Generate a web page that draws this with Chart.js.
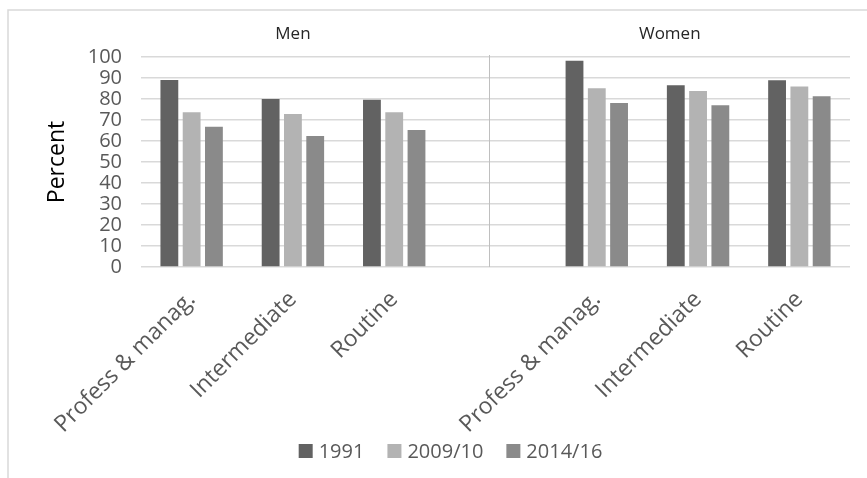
<!DOCTYPE html>
<html>
<head>
<meta charset="utf-8">
<script src="https://cdn.jsdelivr.net/npm/chart.js@4/dist/chart.umd.min.js"></script>
<style>
  html, body { margin: 0; padding: 0; background: #ffffff; }
  #wrap { width: 867px; height: 478px; }
</style>
</head>
<body>
<div id="wrap"><canvas id="chart" width="867" height="478"></canvas></div>
<script>
// Occupational classes, shown once for men and once for women; the empty slot separates the panels
const categories = ['Profess & manag.', 'Intermediate', 'Routine', '', 'Profess & manag.', 'Intermediate', 'Routine'];
const panelNames = ['Men', 'Women'];
const seriesNames = ['1991', '2009/10', '2014/16'];

// Percent values per survey year
const values1991 = [89, 80, 79.7, null, 98.2, 86.5, 88.9];
const values2009 = [73.7, 72.9, 73.7, null, 85.1, 83.8, 86];
const values2014 = [66.8, 62.4, 65.2, null, 78.1, 77, 81.3];

const yMin = 0;
const yMax = 100;
const yStep = 10;

const FONT = "'Open Sans', 'DejaVu Sans', sans-serif";
const seriesColors = ['#626262', '#b3b3b3', '#8a8a8a'];

// Frame lines, panel divider and panel headings
const panelPlugin = {
  id: 'panels',
  beforeDraw(chart) {
    const ctx = chart.ctx;
    ctx.save();
    ctx.strokeStyle = '#d9d9d9';
    ctx.lineWidth = 1.5;
    ctx.beginPath();
    ctx.moveTo(8, chart.height);
    ctx.lineTo(8, 10);
    ctx.lineTo(chart.width, 10);
    ctx.stroke();
    ctx.restore();
  },
  afterDatasetsDraw(chart) {
    const ctx = chart.ctx;
    const x = chart.scales.x;
    const area = chart.chartArea;
    const divX = Math.round(x.getPixelForValue(2.94)) + 0.5;
    ctx.save();
    ctx.strokeStyle = '#bfbfbf';
    ctx.lineWidth = 1;
    ctx.beginPath();
    ctx.moveTo(divX, area.top - 2);
    ctx.lineTo(divX, area.bottom);
    ctx.stroke();

    ctx.fillStyle = '#262626';
    ctx.font = '17px ' + FONT;
    ctx.textAlign = 'center';
    ctx.textBaseline = 'middle';
    ctx.fillText(panelNames[0], x.getPixelForValue(1), 34);
    ctx.fillText(panelNames[1], (divX + area.right) / 2, 34);
    ctx.restore();
  }
};

// Series key along the bottom edge, overlapping the slanted category labels' band
const keyPlugin = {
  id: 'seriesKey',
  afterDraw(chart) {
    const ctx = chart.ctx;
    const box = 14, gapText = 6, gapItem = 23;
    const cy = 451;
    ctx.save();
    ctx.font = '20px ' + FONT;
    ctx.textBaseline = 'middle';
    ctx.textAlign = 'left';
    const items = chart.data.datasets.map(ds => ({
      label: ds.label,
      color: ds.backgroundColor,
      w: box + gapText + ctx.measureText(ds.label).width
    }));
    const total = items.reduce((s, it) => s + it.w, 0) + gapItem * (items.length - 1);
    let x = (chart.chartArea.left + chart.chartArea.right) / 2 - 45 - total / 2;
    items.forEach(it => {
      ctx.fillStyle = it.color;
      ctx.fillRect(x, cy - box / 2, box, box);
      ctx.fillStyle = '#595959';
      ctx.fillText(it.label, x + box + gapText, cy + 1);
      x += it.w + gapItem;
    });
    ctx.restore();
  }
};

new Chart(document.getElementById('chart'), {
  type: 'bar',
  data: {
    labels: categories,
    datasets: [
      { label: seriesNames[0], data: values1991, backgroundColor: seriesColors[0] },
      { label: seriesNames[1], data: values2009, backgroundColor: seriesColors[1] },
      { label: seriesNames[2], data: values2014, backgroundColor: seriesColors[2] }
    ]
  },
  options: {
    responsive: false,
    animation: false,
    devicePixelRatio: 1,
    datasets: {
      bar: { categoryPercentage: 0.66, barPercentage: 0.8, skipNull: false }
    },
    layout: { padding: { top: 57, right: 17, bottom: 0, left: 0 } },
    plugins: {
      tooltip: { enabled: false },
      legend: { display: false }
    },
    scales: {
      x: {
        grid: { display: false, drawTicks: false },
        border: { display: false },
        ticks: {
          autoSkip: false,
          minRotation: 45,
          maxRotation: 45,
          padding: 19,
          color: '#595959',
          font: { family: FONT, size: 23 }
        },
        afterFit(scale) { scale.height = 211; }
      },
      y: {
        min: yMin,
        max: yMax,
        grid: { color: '#d9d9d9', lineWidth: 1.5, drawTicks: false },
        border: { display: false },
        ticks: {
          autoSkip: false,
          stepSize: yStep,
          padding: 19,
          color: '#595959',
          font: { family: FONT, size: 20, lineHeight: 1 }
        },
        title: {
          display: true,
          text: 'Percent',
          color: '#000000',
          font: { family: FONT, size: 23 },
          padding: { top: 44, bottom: 0 }
        },
        afterFit(scale) { scale.width = 141; }
      }
    }
  },
  plugins: [panelPlugin, keyPlugin]
});
</script>
</body>
</html>
